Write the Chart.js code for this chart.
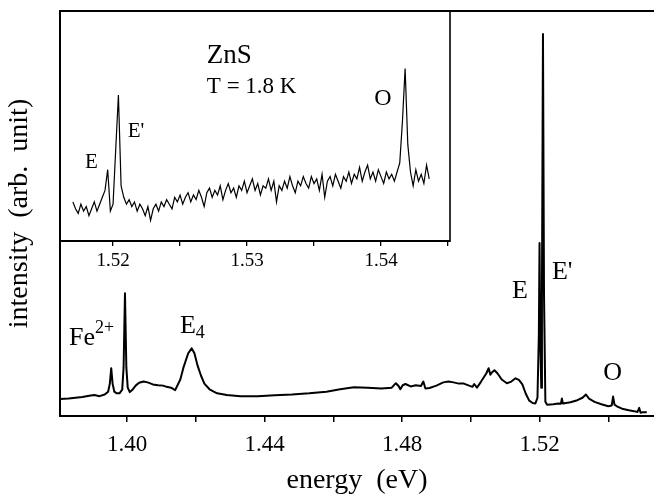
<!DOCTYPE html>
<html>
<head>
<meta charset="utf-8">
<script src="https://cdn.jsdelivr.net/npm/chart.js@4.4.1/dist/chart.umd.min.js"></script>
<style>
  html, body { margin: 0; padding: 0; background: #fff; }
  #wrap { position: relative; width: 654px; height: 498px; overflow: hidden; }
  #mainChart { position: absolute; left: 0; top: 0; }
  #insetChart { position: absolute; left: 40px; top: 0; }
</style>
</head>
<body>
<div id="wrap">
  <canvas id="mainChart" width="654" height="498"></canvas>
  <canvas id="insetChart" width="430" height="290"></canvas>
</div>
<script>
// main spectrum (energy in eV, intensity in arb. units)
const energy = [
  1.3805, 1.3830, 1.3850, 1.3870, 1.3890, 1.3905, 1.3920, 1.3935, 1.3945, 1.3950,
  1.3954, 1.3958, 1.3963, 1.3970, 1.3978, 1.3986, 1.3990, 1.3994, 1.3998, 1.4002,
  1.4008, 1.4015, 1.4025, 1.4035, 1.4048, 1.4060, 1.4075, 1.4090, 1.4105, 1.4115,
  1.4128, 1.4140, 1.4155, 1.4165, 1.4178, 1.4188, 1.4196, 1.4205, 1.4215, 1.4225,
  1.4240, 1.4262, 1.4290, 1.4330, 1.4380, 1.4430, 1.4480, 1.4530, 1.4580, 1.4620,
  1.4660, 1.4700, 1.4740, 1.4770, 1.4782, 1.4790, 1.4795, 1.4802, 1.4810, 1.4825,
  1.4840, 1.4855, 1.4862, 1.4868, 1.4880, 1.4900, 1.4920, 1.4935, 1.4950, 1.4965,
  1.4980, 1.4995, 1.5005, 1.5010, 1.5018, 1.5030, 1.5045, 1.5052, 1.5057, 1.5062,
  1.5069, 1.5078, 1.5090, 1.5105, 1.5118, 1.5130, 1.5140, 1.5150, 1.5160, 1.5170,
  1.5180, 1.5188, 1.5194, 1.5198, 1.5200, 1.5202, 1.5205, 1.5207, 1.5210, 1.5213,
  1.5217, 1.5222, 1.5240, 1.5255, 1.5262, 1.5265, 1.5268, 1.5290, 1.5310, 1.5325,
  1.5335, 1.5345, 1.5360, 1.5380, 1.5400, 1.5410, 1.5414, 1.5418, 1.5425, 1.5440,
  1.5460, 1.5475, 1.5485, 1.5490, 1.5494, 1.5500, 1.5512
];
const intensity = [
  4.2, 4.3, 4.5, 4.7, 5.0, 5.2, 4.9, 5.3, 6.0, 8.0,
  11.8, 8.0, 6.0, 5.6, 5.6, 6.5, 12.0, 30.3, 12.0, 7.0,
  5.9, 6.4, 7.5, 8.2, 8.5, 8.3, 7.8, 7.6, 7.5, 7.2,
  7.0, 6.4, 9.0, 12.2, 15.5, 16.7, 15.5, 12.5, 10.0, 8.0,
  6.6, 5.6, 5.2, 4.9, 4.9, 5.1, 5.3, 5.6, 6.0, 6.6,
  7.1, 7.0, 6.8, 7.0, 8.1, 7.4, 6.6, 7.6, 7.9, 7.3,
  7.6, 7.4, 8.5, 6.8, 6.9, 7.5, 8.3, 8.5, 8.3, 8.0,
  8.0, 7.5, 7.2, 7.9, 7.0, 8.5, 10.5, 11.8, 10.2, 10.8,
  11.3, 10.5, 9.0, 8.1, 8.5, 9.3, 8.9, 7.8, 5.5, 3.8,
  3.2, 3.1, 4.5, 20.0, 42.7, 20.0, 7.0, 30.0, 94.3, 30.0,
  3.5, 2.8, 2.9, 3.1, 3.0, 4.3, 3.1, 3.4, 3.9, 4.5,
  5.3, 4.2, 3.5, 2.9, 2.4, 2.6, 4.8, 2.8, 2.4, 1.8,
  1.4, 1.2, 1.0, 2.0, 0.8, 0.9, 0.9
];

// inset: high-resolution scan near the band edge
const insetEnergy = [
  1.5170, 1.5172, 1.5174, 1.5176, 1.5178, 1.5180, 1.5182, 1.5184, 1.5186, 1.5188,
  1.5190, 1.5192, 1.5194, 1.5196, 1.5198, 1.5200, 1.5202, 1.5204, 1.5206, 1.5208,
  1.5210, 1.5212, 1.5214, 1.5216, 1.5218, 1.5220, 1.5222, 1.5224, 1.5226, 1.5228,
  1.5230, 1.5232, 1.5234, 1.5236, 1.5238, 1.5240, 1.5242, 1.5244, 1.5246, 1.5248,
  1.5250, 1.5252, 1.5254, 1.5256, 1.5258, 1.5260, 1.5262, 1.5264, 1.5266, 1.5268,
  1.5270, 1.5272, 1.5274, 1.5276, 1.5278, 1.5280, 1.5282, 1.5284, 1.5286, 1.5288,
  1.5290, 1.5292, 1.5294, 1.5296, 1.5298, 1.5300, 1.5302, 1.5304, 1.5306, 1.5308,
  1.5310, 1.5312, 1.5314, 1.5316, 1.5318, 1.5320, 1.5322, 1.5324, 1.5326, 1.5328,
  1.5330, 1.5332, 1.5334, 1.5336, 1.5338, 1.5340, 1.5342, 1.5344, 1.5346, 1.5348,
  1.5350, 1.5352, 1.5354, 1.5356, 1.5358, 1.5360, 1.5362, 1.5364, 1.5366, 1.5368,
  1.5370, 1.5372, 1.5374, 1.5376, 1.5378, 1.5380, 1.5382, 1.5384, 1.5386, 1.5388,
  1.5390, 1.5392, 1.5394, 1.5396, 1.5398, 1.5400, 1.5402, 1.5404, 1.5406, 1.5408,
  1.5410, 1.5412, 1.5414, 1.5416, 1.5418, 1.5420, 1.5422, 1.5424, 1.5426, 1.5428,
  1.5430, 1.5432, 1.5434, 1.5436
];
const insetIntensity = [
  0.17, 0.14, 0.12, 0.16, 0.13, 0.15, 0.11, 0.14, 0.17, 0.13,
  0.16, 0.19, 0.22, 0.31, 0.13, 0.16, 0.40, 0.635, 0.24, 0.19,
  0.16, 0.18, 0.15, 0.17, 0.13, 0.16, 0.14, 0.11, 0.15, 0.09,
  0.14, 0.16, 0.13, 0.17, 0.15, 0.18, 0.16, 0.14, 0.19, 0.17,
  0.20, 0.16, 0.19, 0.21, 0.17, 0.20, 0.18, 0.22, 0.19, 0.15,
  0.21, 0.23, 0.19, 0.22, 0.20, 0.24, 0.18, 0.22, 0.25, 0.21,
  0.23, 0.19, 0.24, 0.22, 0.26, 0.21, 0.24, 0.27, 0.22, 0.25,
  0.20, 0.24, 0.23, 0.27, 0.22, 0.26, 0.17, 0.24, 0.22, 0.26,
  0.23, 0.28, 0.24, 0.21, 0.26, 0.24, 0.28, 0.25, 0.23, 0.28,
  0.25, 0.27, 0.22, 0.29, 0.19, 0.26, 0.28, 0.24, 0.29, 0.26,
  0.23, 0.28, 0.26, 0.30, 0.25, 0.29, 0.27, 0.32, 0.26, 0.30,
  0.33, 0.27, 0.30, 0.26, 0.31, 0.28, 0.25, 0.30, 0.27, 0.29,
  0.26, 0.30, 0.34, 0.52, 0.75, 0.42, 0.30, 0.24, 0.31, 0.26,
  0.29, 0.25, 0.33, 0.27
];

// tick values and labels
const mainTicks = [1.40, 1.42, 1.44, 1.46, 1.48, 1.50, 1.52, 1.54];
const mainTickLabels = ['1.40', '', '1.44', '', '1.48', '', '1.52', ''];
const insetTicks = [1.520, 1.525, 1.530, 1.535, 1.540, 1.545];
const insetTickLabels = ['1.52', '', '1.53', '', '1.54', ''];

// peak labels, anchored in data coordinates
const mainNotes = [
  { text: 'Fe', sup: '2+', e: 1.3831, i: 17.5 },
  { text: 'E', sub: '4', e: 1.4154, i: 20.5 },
  { text: 'E', e: 1.5120, i: 29.1 },
  { text: "E'", e: 1.5236, i: 33.8 },
  { text: 'O', e: 1.5385, i: 8.9 }
];
const insetNotes = [
  { text: 'ZnS', e: 1.5270, i: 0.774, size: 27 },
  { text: 'T = 1.8 K', e: 1.5270, i: 0.643, size: 23 },
  { text: 'E', e: 1.5179, i: 0.317, size: 21 },
  { text: "E'", e: 1.5211, i: 0.452, size: 21 },
  { text: 'O', e: 1.5395, i: 0.591, size: 24 }
];

const serif = "'Liberation Serif', 'Times New Roman', serif";
Chart.defaults.font.family = serif;
Chart.defaults.color = '#000';

function notesPlugin(notes, defSize) {
  return {
    id: 'notes',
    afterDraw(chart) {
      const { ctx, scales: { x, y } } = chart;
      ctx.save();
      ctx.fillStyle = '#000';
      ctx.textBaseline = 'alphabetic';
      notes.forEach(n => {
        const size = n.size || defSize;
        const px = x.getPixelForValue(n.e);
        const py = y.getPixelForValue(n.i);
        ctx.font = size + 'px ' + serif;
        ctx.fillText(n.text, px, py);
        const w = ctx.measureText(n.text).width;
        ctx.font = Math.round(size * 0.7) + 'px ' + serif;
        if (n.sup) ctx.fillText(n.sup, px + w, py - size * 0.45);
        if (n.sub) ctx.fillText(n.sub, px + w, py + size * 0.2);
      });
      ctx.restore();
    }
  };
}

const frameMain = {
  id: 'frameMain',
  beforeDatasetsDraw(chart) {
    const { ctx, chartArea: a } = chart;
    ctx.save();
    ctx.strokeStyle = '#000';
    ctx.lineWidth = 2;
    ctx.beginPath();
    ctx.moveTo(a.left, a.top);
    ctx.lineTo(a.right, a.top);
    ctx.stroke();
    ctx.restore();
  }
};

const frameInset = {
  id: 'frameInset',
  beforeDatasetsDraw(chart) {
    const { ctx, chartArea: a } = chart;
    ctx.save();
    ctx.strokeStyle = '#000';
    ctx.lineWidth = 1.6;
    ctx.strokeRect(a.left, a.top, a.right - a.left, a.bottom - a.top);
    ctx.restore();
  }
};

// Main spectrum
new Chart(document.getElementById('mainChart'), {
  type: 'line',
  data: {
    datasets: [{
      data: energy.map((e, k) => ({ x: e, y: intensity[k] })),
      borderColor: '#000',
      borderWidth: 2,
      borderJoinStyle: 'round',
      pointRadius: 0,
      tension: 0
    }]
  },
  options: {
    responsive: false,
    animation: false,
    layout: { padding: { left: 0, right: 0, top: 11, bottom: 0 } },
    plugins: { legend: { display: false }, tooltip: { enabled: false } },
    scales: {
      x: {
        type: 'linear',
        min: 1.3805,
        max: 1.5533,
        afterBuildTicks: s => { s.ticks = mainTicks.map(v => ({ value: v })); },
        afterFit: s => { s.height = 82; },
        ticks: {
          autoSkip: false,
          maxRotation: 0,
          padding: 9,
          font: { size: 23 },
          callback: (v, k) => mainTickLabels[k]
        },
        grid: { drawOnChartArea: false, tickLength: 6, color: '#000', lineWidth: 1.5 },
        border: { color: '#000', width: 2 },
        title: {
          display: true,
          text: 'energy  (eV)',
          font: { size: 28 },
          padding: { top: 0, bottom: 1 }
        }
      },
      y: {
        min: 0,
        max: 100,
        afterFit: s => { s.width = 60; },
        ticks: { display: false },
        grid: { drawOnChartArea: false, drawTicks: false },
        border: { color: '#000', width: 2 },
        title: {
          display: true,
          text: 'intensity  (arb.  unit)',
          font: { size: 28 },
          padding: { top: 3, bottom: 0 }
        }
      }
    }
  },
  plugins: [frameMain, notesPlugin(mainNotes, 26)]
});

// Inset
new Chart(document.getElementById('insetChart'), {
  type: 'line',
  data: {
    datasets: [{
      data: insetEnergy.map((e, k) => ({ x: e, y: insetIntensity[k] })),
      borderColor: '#000',
      borderWidth: 1.2,
      pointRadius: 0,
      tension: 0
    }]
  },
  options: {
    responsive: false,
    animation: false,
    layout: { padding: { left: 20, right: 20, top: 11, bottom: 0 } },
    plugins: { legend: { display: false }, tooltip: { enabled: false } },
    scales: {
      x: {
        type: 'linear',
        min: 1.51604,
        max: 1.54515,
        afterBuildTicks: s => { s.ticks = insetTicks.map(v => ({ value: v })); },
        afterFit: s => { s.height = 49; },
        ticks: {
          autoSkip: false,
          maxRotation: 0,
          padding: 4,
          font: { size: 19 },
          callback: (v, k) => insetTickLabels[k]
        },
        grid: { drawOnChartArea: false, tickLength: 5, color: '#000', lineWidth: 1.3 },
        border: { color: '#000', width: 2 }
      },
      y: { display: false, min: 0, max: 1 }
    }
  },
  plugins: [frameInset, notesPlugin(insetNotes, 21)]
});
</script>
</body>
</html>
